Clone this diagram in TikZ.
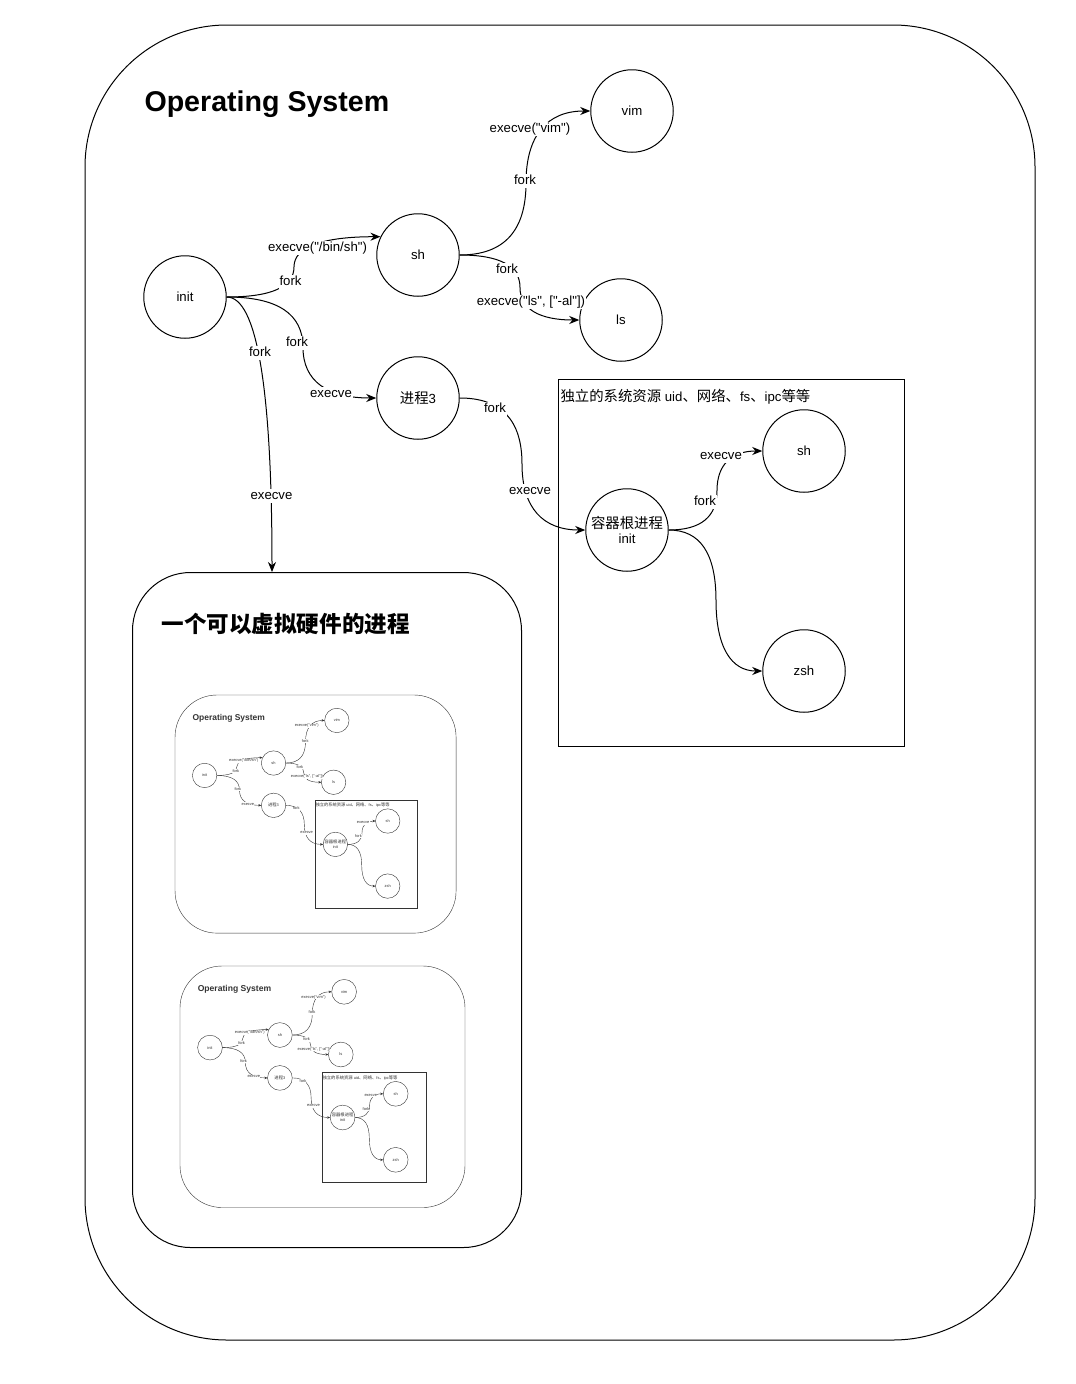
\documentclass[tikz,border=0pt]{standalone}
\usepackage{fontspec}
\setmainfont{Liberation Sans}[Ligatures=TeXOff]
\newfontfamily\cjk[Scale=1.09]{Noto Sans CJK SC}
\usetikzlibrary{arrows.meta,calc}
\newcommand\lbl{\fontsize{13.2}{15.8}\selectfont}
\tikzset{
  proc/.style={draw, circle, minimum size=82.5pt, inner sep=0pt, font=\lbl, align=center},
  elab/.style={fill=white, inner sep=0.6pt, font=\lbl, text height=9.6pt, text depth=2.8pt},
  conn/.style={draw, -{Stealth[length=10pt,width=8pt]}},
  frame/.style={draw, rounded corners=142pt},
  ostitle/.style={anchor=base west, inner sep=0pt, font=\fontsize{28.6}{32}\selectfont\bfseries},
  ctrbox/.style={draw, anchor=north west, inner sep=0pt, minimum width=346pt, minimum height=367pt},
  ctrlabel/.style={anchor=west, inner sep=0pt, font=\lbl},
}
% curved orthogonal connector (draw.io style): source, x of vertical run, target
\newcommand\osedge[3]{%
  \path (#1) coordinate (eS) (#3) coordinate (eT) (#2,0) coordinate (eX);
  \path (eS -| eX) coordinate (eCa) (eT -| eX) coordinate (eCb);
  \path ($(eCa)!0.5!(eCb)$) coordinate (eM);
  \draw[conn] (eS) .. controls ($(eS)!2/3!(eCa)$) and ($(eM)!2/3!(eCa)$) .. (eM)
                   .. controls ($(eM)!2/3!(eCb)$) and ($(eT)!2/3!(eCb)$) .. (eT);
}
\newcommand\osbody[1]{%
  \draw[frame] (85,25) rectangle (1035,#1);
  \node[ostitle] (title) at (144,111) {Operating System};
  \node[proc] (init) at (185,297) {init};
  \node[proc] (sh) at (418,255) {sh};
  \node[proc] (vim) at (632,111) {vim};
  \node[proc] (ls) at (621,320) {ls};
  \node[proc] (p3) at (418,398) {{\cjk 进程}3};
  \node[ctrbox] (ctr) at (558,379) {};
  \node[ctrlabel] (ctrl) at (560,397) {{\cjk 独立的系统资源} uid{\cjk 、网络、}fs{\cjk 、}ipc{\cjk 等等}};
  \node[proc] (cinit) at (627,530) {{\cjk 容器根进程}\\init};
  \node[proc] (csh) at (804,451) {sh};
  \node[proc] (zsh) at (804,671) {zsh};
  \osedge{init.east}{294}{sh.154}
  \osedge{init.east}{303}{p3.west}
  \osedge{sh.east}{526}{vim.west}
  \osedge{sh.east}{520}{ls.west}
  \osedge{p3.east}{522}{cinit.west}
  \osedge{cinit.east}{717}{csh.west}
  \osedge{cinit.east}{716}{zsh.west}
  \node[elab] (l1a) at (290.5,282) {fork};
  \node[elab] (l1b) at (317.5,248) {execve("/bin/sh")};
  \node[elab] (l2a) at (297,343) {fork};
  \node[elab] (l2b) at (331,394) {execve};
  \node[elab] (l4a) at (525,181) {fork};
  \node[elab] (l4b) at (530,129) {execve("vim")};
  \node[elab] (l5a) at (507,270) {fork};
  \node[elab] (l5b) at (531,302) {execve("ls", ["-al"])};
  \node[elab] (l6a) at (495,409) {fork};
  \node[elab] (l6b) at (530,491) {execve};
  \node[elab] (l7a) at (705,502) {fork};
  \node[elab] (l7b) at (721,456) {execve};
}
\begin{document}
\begin{tikzpicture}[x=1pt, y=-1pt, line width=1pt]
  \useasboundingbox (0,0) rectangle (1076,1384);
  \fill[white] (0,0) rectangle (1076,1384);
  \osbody{1340}
  % virtual hardware process box
  \node[draw, rounded corners=58pt, anchor=north west, inner sep=0pt,
        minimum width=389pt, minimum height=675pt] (vbox) at (132,572) {};
  \node[anchor=west, inner sep=0pt, font=\cjk\fontsize{20.7}{24}\selectfont\bfseries] (vtitle) at (161,623.5) {一个可以虚拟硬件的进程};
  % init -> vbox
  \path (init.east) coordinate (dS) (272,0) coordinate (dX);
  \path (dS -| dX) coordinate (dC) (vbox.north -| dX) coordinate (dT);
  \draw[conn] (dS) .. controls ($(dS)!2/3!(dC)$) and ($(dT)!2/3!(dC)$) .. (dT);
  \node[elab] (l3a) at (260,353) {fork};
  \node[elab] (l3b) at (271.5,496) {execve};
  % miniature copies
  \begin{scope}[shift={(149.9,687.6)}, scale=0.2958, transform shape, name prefix=ma-,
      line width=0.4pt, color=black!80, frame/.style={draw, rounded corners=42pt},
      conn/.style={draw, -{Stealth[length=3pt,width=2.4pt]}}]
    \osbody{830}
  \end{scope}
  \begin{scope}[shift={(154.5,958.5)}, scale=0.3, transform shape, name prefix=mb-,
      line width=0.4pt, color=black!80, frame/.style={draw, rounded corners=42pt},
      conn/.style={draw, -{Stealth[length=3pt,width=2.4pt]}}]
    \osbody{830}
  \end{scope}
\end{tikzpicture}
\end{document}
